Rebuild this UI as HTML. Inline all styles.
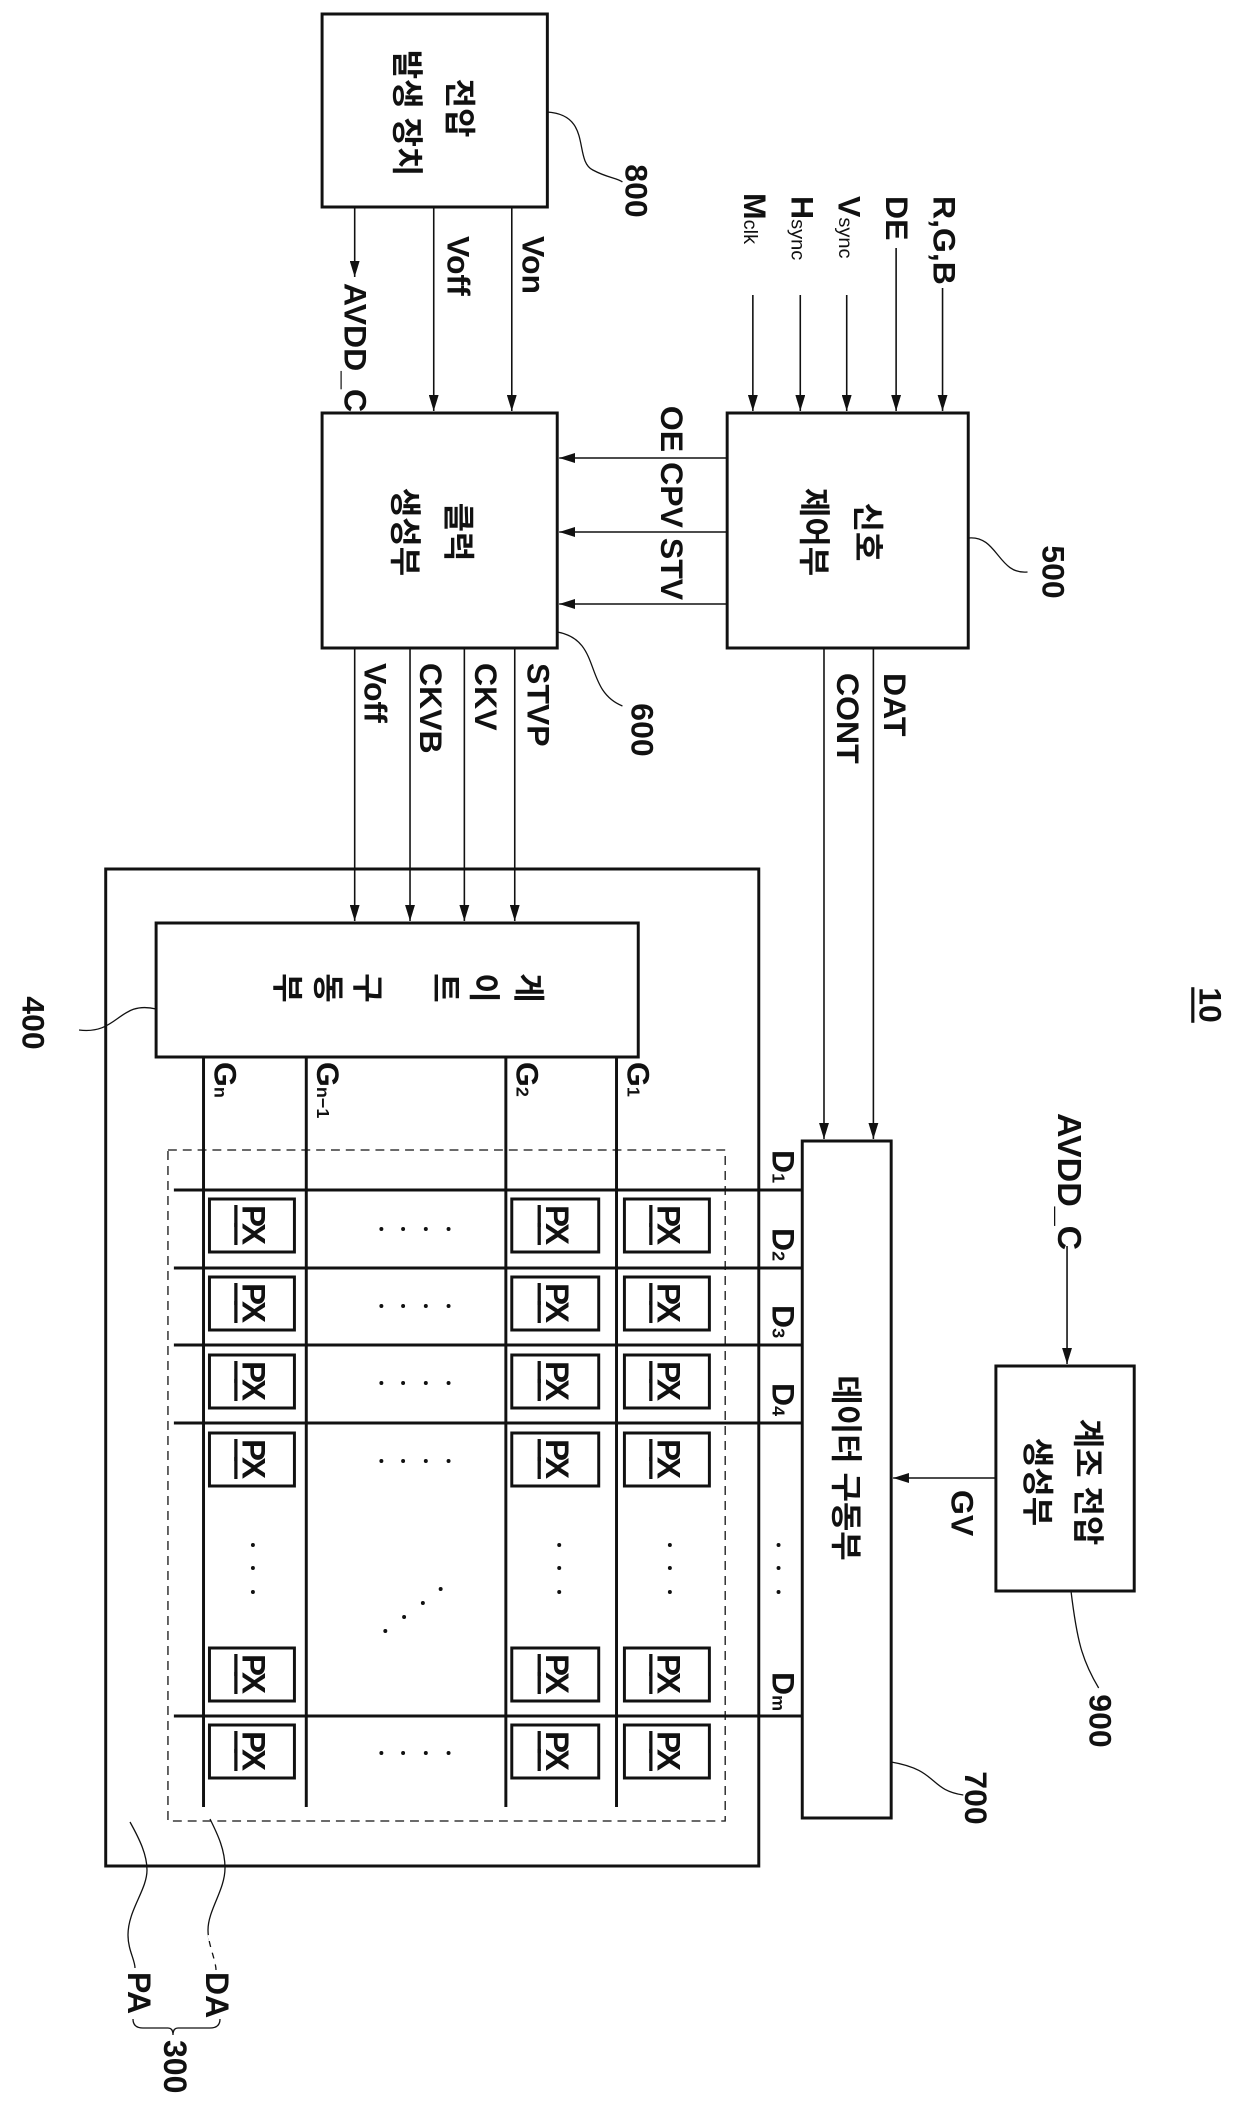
<!DOCTYPE html>
<html><head><meta charset="utf-8"><style>
html,body{margin:0;padding:0;background:#fff}
svg{display:block}
text{font-family:"Liberation Sans","Noto Sans CJK KR",sans-serif;font-weight:bold;fill:#111}
</style></head><body>
<svg width="1240" height="2107" viewBox="0 0 1240 2107" xmlns="http://www.w3.org/2000/svg">
<defs>
<marker id="a" markerWidth="16" markerHeight="10" refX="16" refY="5" orient="auto" markerUnits="userSpaceOnUse">
<path d="M0,0 L16,5 L0,10 Z" fill="#111"/></marker>
<g id="hd" fill="#111"><circle cx="386" cy="0" r="2"/><circle cx="408" cy="0" r="2"/><circle cx="431" cy="0" r="2"/><circle cx="454" cy="0" r="2"/></g>
</defs>
<g transform="scale(0.988,1)">
<g fill="none" stroke="#111" stroke-width="3">
<rect x="326" y="14" width="228" height="193"/>
<rect x="326" y="413" width="238" height="235"/>
<rect x="736" y="413" width="244" height="235"/>
<rect x="107" y="869" width="661" height="997"/>
<rect x="158" y="923" width="488" height="134"/>
<rect x="812" y="1141" width="90" height="677"/>
<rect x="1008" y="1366" width="140" height="225"/>
</g>
<g stroke="#111" stroke-width="1.6" fill="none" marker-end="url(#a)">
<line x1="359" y1="207" x2="359" y2="277"/>
<line x1="439" y1="207" x2="439" y2="411"/>
<line x1="518" y1="207" x2="518" y2="411"/>
<line x1="762" y1="295" x2="762" y2="411"/>
<line x1="810" y1="295" x2="810" y2="411"/>
<line x1="857" y1="295" x2="857" y2="411"/>
<line x1="907" y1="248" x2="907" y2="411"/>
<line x1="954" y1="288" x2="954" y2="411"/>
<line x1="736" y1="458" x2="566" y2="458"/>
<line x1="736" y1="532" x2="566" y2="532"/>
<line x1="736" y1="604" x2="566" y2="604"/>
<line x1="359" y1="648" x2="359" y2="921"/>
<line x1="415" y1="648" x2="415" y2="921"/>
<line x1="470" y1="648" x2="470" y2="921"/>
<line x1="521" y1="648" x2="521" y2="921"/>
<line x1="834" y1="648" x2="834" y2="1139"/>
<line x1="884" y1="648" x2="884" y2="1139"/>
<line x1="1080" y1="1246" x2="1080" y2="1364"/>
<line x1="1008" y1="1478" x2="904" y2="1478"/>
</g>
<g stroke="#111" stroke-width="1.3" fill="none">
<path d="M554,112 C600,115 580,160 600,170 C615,178 625,178 630,182"/>
<path d="M980,538 C1010,535 1010,575 1040,572"/>
<path d="M564,632 C610,640 590,690 630,706"/>
<path d="M158,1009 C120,1000 120,1035 80,1030"/>
<path d="M902,1762 C950,1770 940,1790 975,1795"/>
<path d="M1084,1591 C1090,1640 1095,1660 1112,1688"/>
</g>
<g stroke="#111" stroke-width="3">
<line x1="206" y1="1057" x2="206" y2="1807"/>
<line x1="310" y1="1057" x2="310" y2="1807"/>
<line x1="512" y1="1057" x2="512" y2="1807"/>
<line x1="624" y1="1057" x2="624" y2="1807"/>
<line x1="176" y1="1190" x2="812" y2="1190"/>
<line x1="176" y1="1268" x2="812" y2="1268"/>
<line x1="176" y1="1345" x2="812" y2="1345"/>
<line x1="176" y1="1423" x2="812" y2="1423"/>
<line x1="176" y1="1716" x2="812" y2="1716"/>
</g>
<rect x="170" y="1150" width="564" height="671" fill="none" stroke="#111" stroke-width="1.3" stroke-dasharray="9,6"/>
<g fill="none" stroke="#111" stroke-width="3">
<rect x="212" y="1199" width="86" height="53"/><rect x="518" y="1199" width="88" height="53"/><rect x="632" y="1199" width="86" height="53"/>
<rect x="212" y="1277" width="86" height="53"/><rect x="518" y="1277" width="88" height="53"/><rect x="632" y="1277" width="86" height="53"/>
<rect x="212" y="1355" width="86" height="53"/><rect x="518" y="1355" width="88" height="53"/><rect x="632" y="1355" width="86" height="53"/>
<rect x="212" y="1433" width="86" height="53"/><rect x="518" y="1433" width="88" height="53"/><rect x="632" y="1433" width="86" height="53"/>
<rect x="212" y="1648" width="86" height="53"/><rect x="518" y="1648" width="88" height="53"/><rect x="632" y="1648" width="86" height="53"/>
<rect x="212" y="1725" width="86" height="53"/><rect x="518" y="1725" width="88" height="53"/><rect x="632" y="1725" width="86" height="53"/>
</g>
<g font-size="33">
<text transform="translate(257,1225) rotate(90)" text-anchor="middle" dominant-baseline="central" textLength="40" text-decoration="underline">PX</text>
<text transform="translate(564,1225) rotate(90)" text-anchor="middle" dominant-baseline="central" textLength="40" text-decoration="underline">PX</text>
<text transform="translate(677,1225) rotate(90)" text-anchor="middle" dominant-baseline="central" textLength="40" text-decoration="underline">PX</text>
<text transform="translate(257,1303) rotate(90)" text-anchor="middle" dominant-baseline="central" textLength="40" text-decoration="underline">PX</text>
<text transform="translate(564,1303) rotate(90)" text-anchor="middle" dominant-baseline="central" textLength="40" text-decoration="underline">PX</text>
<text transform="translate(677,1303) rotate(90)" text-anchor="middle" dominant-baseline="central" textLength="40" text-decoration="underline">PX</text>
<text transform="translate(257,1381) rotate(90)" text-anchor="middle" dominant-baseline="central" textLength="40" text-decoration="underline">PX</text>
<text transform="translate(564,1381) rotate(90)" text-anchor="middle" dominant-baseline="central" textLength="40" text-decoration="underline">PX</text>
<text transform="translate(677,1381) rotate(90)" text-anchor="middle" dominant-baseline="central" textLength="40" text-decoration="underline">PX</text>
<text transform="translate(257,1459) rotate(90)" text-anchor="middle" dominant-baseline="central" textLength="40" text-decoration="underline">PX</text>
<text transform="translate(564,1459) rotate(90)" text-anchor="middle" dominant-baseline="central" textLength="40" text-decoration="underline">PX</text>
<text transform="translate(677,1459) rotate(90)" text-anchor="middle" dominant-baseline="central" textLength="40" text-decoration="underline">PX</text>
<text transform="translate(257,1674) rotate(90)" text-anchor="middle" dominant-baseline="central" textLength="40" text-decoration="underline">PX</text>
<text transform="translate(564,1674) rotate(90)" text-anchor="middle" dominant-baseline="central" textLength="40" text-decoration="underline">PX</text>
<text transform="translate(677,1674) rotate(90)" text-anchor="middle" dominant-baseline="central" textLength="40" text-decoration="underline">PX</text>
<text transform="translate(257,1751) rotate(90)" text-anchor="middle" dominant-baseline="central" textLength="40" text-decoration="underline">PX</text>
<text transform="translate(564,1751) rotate(90)" text-anchor="middle" dominant-baseline="central" textLength="40" text-decoration="underline">PX</text>
<text transform="translate(677,1751) rotate(90)" text-anchor="middle" dominant-baseline="central" textLength="40" text-decoration="underline">PX</text>
</g>
<g fill="#111">
<use href="#hd" y="1229"/><use href="#hd" y="1306"/><use href="#hd" y="1383"/><use href="#hd" y="1461"/><use href="#hd" y="1753"/>
<circle cx="256" cy="1545" r="2"/><circle cx="256" cy="1568" r="2"/><circle cx="256" cy="1592" r="2"/>
<circle cx="566" cy="1545" r="2"/><circle cx="566" cy="1568" r="2"/><circle cx="566" cy="1592" r="2"/>
<circle cx="678" cy="1545" r="2"/><circle cx="678" cy="1568" r="2"/><circle cx="678" cy="1592" r="2"/>
<circle cx="788" cy="1545" r="2"/><circle cx="788" cy="1568" r="2"/><circle cx="788" cy="1592" r="2"/>
<circle cx="390" cy="1631" r="2"/><circle cx="409" cy="1617" r="2"/><circle cx="428" cy="1603" r="2"/><circle cx="446" cy="1589" r="2"/>
</g>
<g font-size="32">
<text transform="translate(465,108) rotate(90)" text-anchor="middle" dominant-baseline="central">전압</text>
<text transform="translate(412,113) rotate(90)" text-anchor="middle" dominant-baseline="central">발생 장치</text>
<text transform="translate(464,532) rotate(90)" text-anchor="middle" dominant-baseline="central">클럭</text>
<text transform="translate(410,532) rotate(90)" text-anchor="middle" dominant-baseline="central">생성부</text>
<text transform="translate(878,532) rotate(90)" text-anchor="middle" dominant-baseline="central">신호</text>
<text transform="translate(824,532) rotate(90)" text-anchor="middle" dominant-baseline="central">제어부</text>
<text transform="translate(535,988) rotate(90)" text-anchor="middle" dominant-baseline="central">게</text>
<text transform="translate(490,988) rotate(90)" text-anchor="middle" dominant-baseline="central">이</text>
<text transform="translate(451,988) rotate(90)" text-anchor="middle" dominant-baseline="central">트</text>
<text transform="translate(372,988) rotate(90)" text-anchor="middle" dominant-baseline="central">구</text>
<text transform="translate(332,988) rotate(90)" text-anchor="middle" dominant-baseline="central">동</text>
<text transform="translate(291,988) rotate(90)" text-anchor="middle" dominant-baseline="central">부</text>
<text transform="translate(856,1468) rotate(90)" text-anchor="middle" dominant-baseline="central">데이터 구동부</text>
<text transform="translate(1101,1482) rotate(90)" text-anchor="middle" dominant-baseline="central">계조 전압</text>
<text transform="translate(1050,1482) rotate(90)" text-anchor="middle" dominant-baseline="central">생성부</text>
</g>
<g font-size="32">
<text transform="translate(644,191) rotate(90)" text-anchor="middle" dominant-baseline="central">800</text>
<text transform="translate(360,283) rotate(90)" dominant-baseline="central">AVDD_C</text>
<text transform="translate(464,236) rotate(90)" dominant-baseline="central">Voff</text>
<text transform="translate(540,236) rotate(90)" dominant-baseline="central">Von</text>
<text transform="translate(956,196) rotate(90)" dominant-baseline="central">R,G,B</text>
<text transform="translate(908,196) rotate(90)" dominant-baseline="central">DE</text>
<text transform="translate(860,196) rotate(90)" dominant-baseline="central">V<tspan font-size="20" font-weight="normal" dy="5">sync</tspan></text>
<text transform="translate(812,196) rotate(90)" dominant-baseline="central">H<tspan font-size="20" font-weight="normal" dy="5">sync</tspan></text>
<text transform="translate(764,193) rotate(90)" dominant-baseline="central">M<tspan font-size="20" font-weight="normal" dy="5">clk</tspan></text>
<text transform="translate(680,429) rotate(90)" text-anchor="middle" dominant-baseline="central">OE</text>
<text transform="translate(680,495) rotate(90)" text-anchor="middle" dominant-baseline="central">CPV</text>
<text transform="translate(680,569) rotate(90)" text-anchor="middle" dominant-baseline="central">STV</text>
<text transform="translate(1066,572) rotate(90)" text-anchor="middle" dominant-baseline="central">500</text>
<text transform="translate(650,730) rotate(90)" text-anchor="middle" dominant-baseline="central">600</text>
<text transform="translate(380,663) rotate(90)" dominant-baseline="central">Voff</text>
<text transform="translate(436,663) rotate(90)" dominant-baseline="central">CKVB</text>
<text transform="translate(492,663) rotate(90)" dominant-baseline="central">CKV</text>
<text transform="translate(545,663) rotate(90)" dominant-baseline="central">STVP</text>
<text transform="translate(858,673) rotate(90)" dominant-baseline="central">CONT</text>
<text transform="translate(906,673) rotate(90)" dominant-baseline="central">DAT</text>
<text transform="translate(1225,1005) rotate(90)" text-anchor="middle" dominant-baseline="central" text-decoration="underline" font-weight="normal">10</text>
<text transform="translate(34,1023) rotate(90)" text-anchor="middle" dominant-baseline="central">400</text>
<text transform="translate(1082,1113) rotate(90)" dominant-baseline="central" font-size="34" font-weight="normal">AVDD_C</text>
<text transform="translate(974,1490) rotate(90)" dominant-baseline="central">GV</text>
<text transform="translate(1114,1721) rotate(90)" text-anchor="middle" dominant-baseline="central">900</text>
<text transform="translate(988,1798) rotate(90)" text-anchor="middle" dominant-baseline="central">700</text>
</g>
<g font-size="32" font-weight="normal">
<text transform="translate(228,1062) rotate(90)" dominant-baseline="central">G<tspan font-size="18" dy="5">n</tspan></text>
<text transform="translate(332,1062) rotate(90)" dominant-baseline="central">G<tspan font-size="18" dy="5">n−1</tspan></text>
<text transform="translate(534,1062) rotate(90)" dominant-baseline="central">G<tspan font-size="18" dy="5">2</tspan></text>
<text transform="translate(646,1062) rotate(90)" dominant-baseline="central">G<tspan font-size="18" dy="5">1</tspan></text>
<text transform="translate(793,1150) rotate(90)" dominant-baseline="central">D<tspan font-size="18" dy="5">1</tspan></text>
<text transform="translate(793,1228) rotate(90)" dominant-baseline="central">D<tspan font-size="18" dy="5">2</tspan></text>
<text transform="translate(793,1305) rotate(90)" dominant-baseline="central">D<tspan font-size="18" dy="5">3</tspan></text>
<text transform="translate(793,1383) rotate(90)" dominant-baseline="central">D<tspan font-size="18" dy="5">4</tspan></text>
<text transform="translate(793,1672) rotate(90)" dominant-baseline="central">D<tspan font-size="18" dy="5">m</tspan></text>
</g>
</g>
<g stroke="#111" stroke-width="1.3" fill="none">
<path d="M130,1822 C140,1840 147,1855 147,1870 C147,1890 128,1910 128,1935 C128,1950 135,1960 135,1968"/>
<path d="M210,1819 C218,1835 225,1850 225,1868 C225,1890 208,1910 208,1930 C208,1945 216,1960 216,1970"/>
<path d="M133,2019 Q133,2028 143,2028 L168,2028 Q173,2028 173,2035 Q173,2028 178,2028 L210,2028 Q220,2028 220,2019"/>
</g>
<line x1="209" y1="1935" x2="216" y2="1972" stroke="#fff" stroke-width="3" stroke-dasharray="6,6"/>
<g font-size="32" font-weight="normal">
<text transform="translate(139,1972) rotate(90)" dominant-baseline="central">PA</text>
<text transform="translate(217,1972) rotate(90)" dominant-baseline="central">DA</text>
<text transform="translate(175,2040) rotate(90)" dominant-baseline="central">300</text>
</g>
</svg>
</body></html>
